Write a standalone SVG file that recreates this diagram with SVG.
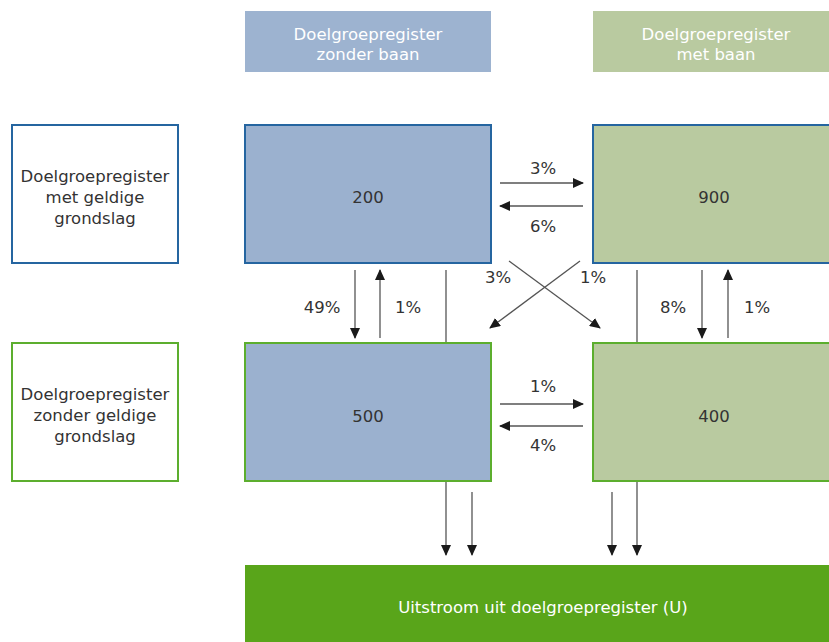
<svg xmlns="http://www.w3.org/2000/svg" width="829" height="642" viewBox="0 0 829 642">
<defs>
<marker id="ah" markerUnits="userSpaceOnUse" markerWidth="12" markerHeight="10" refX="10" refY="5" orient="auto">
<path d="M0,0 L11,5 L0,10 Z" fill="#1a1a1a"/>
</marker>
<style>
text{font-family:"DejaVu Sans","Liberation Sans",sans-serif;font-size:16.5px;fill:#333;text-anchor:middle}
.w{fill:#fff}
.hb{fill:#9db3d0}
.hg{fill:#b9caa0}
.fb{fill:#9bb1cf}
.fg{fill:#b9caa0}
.sb{stroke:#2565a0;stroke-width:2}
.sg{stroke:#5cae2e;stroke-width:2}
.c{stroke:#555;stroke-width:1.3;fill:none}
.a{marker-end:url(#ah)}
</style>
</defs>
<rect width="829" height="642" fill="#fff"/>
<g id="hdr-zonder"><rect class="hb" x="245" y="11" width="246" height="61"/><text class="w" x="368" y="40">Doelgroepregister</text><text class="w" x="368" y="60">zonder baan</text></g>
<g id="hdr-met"><rect class="hg" x="593" y="11" width="246" height="61"/><text class="w" x="716" y="40">Doelgroepregister</text><text class="w" x="716" y="60">met baan</text></g>
<g id="lbl-geldig"><rect x="12" y="125" width="166" height="138" fill="#fff" class="sb"/><text x="95" y="182">Doelgroepregister</text><text x="95" y="203">met geldige</text><text x="95" y="224">grondslag</text></g>
<g id="lbl-ongeldig"><rect x="12" y="343" width="166" height="138" fill="#fff" class="sg"/><text x="95" y="400">Doelgroepregister</text><text x="95" y="421">zonder geldige</text><text x="95" y="442">grondslag</text></g>
<g id="connectors">
<line class="c a" x1="500" y1="183" x2="583" y2="183"/>
<line class="c a" x1="583" y1="206" x2="500" y2="206"/>
<line class="c a" x1="500" y1="404" x2="583" y2="404"/>
<line class="c a" x1="583" y1="426" x2="500" y2="426"/>
<line class="c a" x1="355" y1="270" x2="355" y2="338"/>
<line class="c a" x1="380" y1="338" x2="380" y2="270"/>
<line class="c a" x1="702" y1="270" x2="702" y2="338"/>
<line class="c a" x1="728" y1="338" x2="728" y2="270"/>
<line class="c a" x1="509" y1="261" x2="600" y2="328"/>
<line class="c a" x1="580" y1="261" x2="490" y2="328"/>
<line class="c a" x1="446" y1="270" x2="446" y2="555"/>
<line class="c a" x1="472" y1="492" x2="472" y2="555"/>
<line class="c a" x1="612" y1="492" x2="612" y2="555"/>
<line class="c a" x1="637" y1="270" x2="637" y2="555"/>
<text x="543" y="174">3%</text>
<text x="543" y="232">6%</text>
<text x="543" y="392">1%</text>
<text x="543" y="451">4%</text>
<text x="322" y="313">49%</text>
<text x="408" y="313">1%</text>
<text x="673" y="313">8%</text>
<text x="757" y="313">1%</text>
<text x="498" y="283">3%</text>
<text x="593" y="283">1%</text>
</g>
<g id="n200"><rect class="fb sb" x="245" y="125" width="246" height="138"/><text x="368" y="203">200</text></g>
<g id="n900"><rect class="fg sb" x="593" y="125" width="246" height="138"/><text x="714" y="203">900</text></g>
<g id="n500"><rect class="fb sg" x="245" y="343" width="246" height="138"/><text x="368" y="422">500</text></g>
<g id="n400"><rect class="fg sg" x="593" y="343" width="246" height="138"/><text x="714" y="422">400</text></g>
<g id="uitstroom"><rect x="245" y="565" width="596" height="77" fill="#59a51a"/><text class="w" x="543" y="613">Uitstroom uit doelgroepregister (U)</text></g>
</svg>
